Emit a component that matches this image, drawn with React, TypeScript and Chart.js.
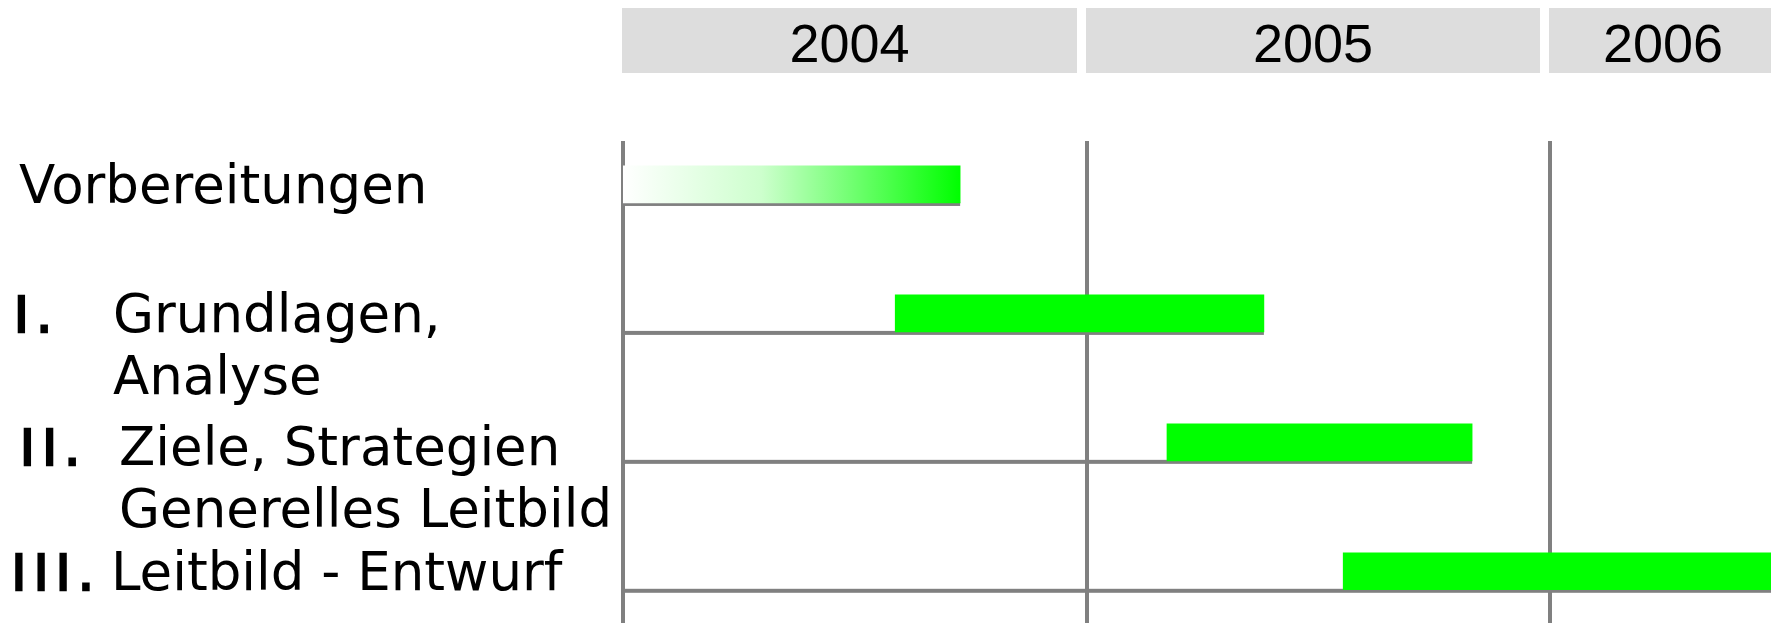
import React, { useEffect, useRef } from 'react';
import { Chart, registerables } from 'chart.js';

Chart.register(...registerables);

// ---- data ----
const yearLabels = ['2004', '2005', '2006'];
const taskNumerals = ['', 'I.', 'II.', 'III.'];
const taskLines = [
  ['Vorbereitungen'],
  ['Grundlagen,', 'Analyse'],
  ['Ziele, Strategien', 'Generelles Leitbild'],
  ['Leitbild - Entwurf'],
];
// start / end as fractional years
const taskStart = [2004.0, 2004.587, 2005.173, 2005.553];
const taskEnd = [2004.727, 2005.382, 2005.831, 2006.8];

// ---- layout / style ----
const W = 1771;
const H = 623;
const AXIS_LEFT = 623;
const AXIS_TOP = 141;
const X_MIN = 2004;
const X_MAX = 2006.4755;
const Y_MIN = -0.337;
const Y_MAX = 3.401;
const GREEN = '#00ff00';
const GRAY = '#808080';
const HEADER_FILL = '#dddddd';
const numeralX = [0, 14, 20, 11.5];
const textX = [19, 113, 119, 111];
const baselineOffset = [18.5, 18.5, 23, 18.5];
const LINE_H = 62;

function makeGradient(chart: any) {
  const xs = chart.scales && chart.scales.x;
  if (!xs) return null;
  const x0 = xs.getPixelForValue(taskStart[0]);
  const x1 = xs.getPixelForValue(taskEnd[0]);
  if (!isFinite(x0) || !isFinite(x1) || x1 <= x0) return null;
  const g = chart.ctx.createLinearGradient(x0, 0, x1, 0);
  g.addColorStop(0, '#ffffff');
  g.addColorStop(0.41, 'rgb(205,255,205)');
  g.addColorStop(0.76, 'rgb(85,255,85)');
  g.addColorStop(1, GREEN);
  return g;
}

const ganttPlugin = {
  id: 'ganttDecor',
  beforeDatasetsDraw(chart: any) {
    const ctx = chart.ctx;
    const xs = chart.scales.x;
    const area = chart.chartArea;
    const meta = chart.getDatasetMeta(0);
    const g = makeGradient(chart);
    if (g && meta.data[0] && meta.data[0].options) meta.data[0].options.backgroundColor = g;
    ctx.save();
    ctx.beginPath();
    ctx.rect(area.left - 2, area.top, area.right - area.left + 2, area.bottom - area.top);
    ctx.clip();
    ctx.fillStyle = GRAY;
    meta.data.forEach((bar: any, i: number) => {
      const p = bar.getProps(['y', 'height'], true);
      const bottom = p.y + p.height / 2;
      const x0 = xs.left - 1;
      const x1 = xs.getPixelForValue(taskEnd[i]);
      ctx.fillRect(x0, bottom - 1, x1 - x0, 4);
    });
    ctx.restore();
  },
  afterDraw(chart: any) {
    const ctx = chart.ctx;
    const xs = chart.scales.x;
    const ys = chart.scales.y;
    ctx.save();
    // year header boxes
    yearLabels.forEach((lab) => {
      const year = Number(lab);
      const x0 = Math.round(xs.getPixelForValue(year)) - 1;
      const x1 = Math.round(xs.getPixelForValue(year + 1)) - 10;
      const visRight = Math.min(x1, chart.width + 6);
      ctx.fillStyle = HEADER_FILL;
      ctx.fillRect(x0, 8, x1 - x0, 65);
      ctx.fillStyle = '#000000';
      ctx.font = '54px "Liberation Sans", Arial, sans-serif';
      ctx.textAlign = 'center';
      ctx.textBaseline = 'alphabetic';
      ctx.fillText(lab, (x0 + visRight) / 2, 62);
    });
    // task labels
    ctx.textAlign = 'left';
    ctx.textBaseline = 'alphabetic';
    ctx.fillStyle = '#000000';
    ctx.strokeStyle = '#000000';
    taskLines.forEach((lines, i) => {
      const base = ys.getPixelForValue(i) + baselineOffset[i];
      if (taskNumerals[i]) {
        ctx.font = '50px "DejaVu Sans", sans-serif';
        (ctx as any).letterSpacing = '7.4px';
        ctx.lineWidth = 2.4;
        ctx.lineJoin = 'miter';
        ctx.fillText(taskNumerals[i], numeralX[i], base);
        ctx.strokeText(taskNumerals[i], numeralX[i], base);
        (ctx as any).letterSpacing = '0px';
      }
      ctx.font = '53px "DejaVu Sans", sans-serif';
      lines.forEach((line, j) => {
        ctx.fillText(line, textX[i], base + j * LINE_H);
      });
    });
    ctx.restore();
  },
};

export default function App() {
  const ref = useRef<HTMLCanvasElement>(null);
  useEffect(() => {
    const canvas = ref.current!;
    const chart = new Chart(canvas, {
      type: 'bar',
      data: {
        datasets: [
          {
            data: taskStart.map((s, i) => ({ x: [s, taskEnd[i]], y: i })) as any,
            backgroundColor: (c: any) => {
              if (c.type !== 'data' || c.dataIndex !== 0) return GREEN;
              return makeGradient(c.chart) || GREEN;
            },
            borderWidth: 0,
            borderSkipped: false,
            barThickness: 37,
          },
        ],
      },
      options: {
        indexAxis: 'y',
        responsive: false,
        animation: false,
        events: [],
        layout: { padding: { left: AXIS_LEFT, top: AXIS_TOP, right: 0, bottom: 0 } },
        plugins: { legend: { display: false }, tooltip: { enabled: false } },
        scales: {
          x: {
            type: 'linear',
            position: 'bottom',
            min: X_MIN,
            max: X_MAX,
            offset: false,
            ticks: { display: false, stepSize: 1, includeBounds: false },
            grid: { color: GRAY, lineWidth: 4, drawTicks: false },
            border: { display: false },
          },
          y: {
            type: 'linear',
            reverse: true,
            offset: false,
            min: Y_MIN,
            max: Y_MAX,
            display: false,
          },
        },
      },
      plugins: [ganttPlugin],
    });
    return () => chart.destroy();
  }, []);
  return (
    <div style={{ position: 'absolute', left: 0, top: 0, width: W, height: H, background: '#ffffff' }}>
      <canvas ref={ref} width={W} height={H} style={{ display: 'block', width: W, height: H }} />
    </div>
  );
}
